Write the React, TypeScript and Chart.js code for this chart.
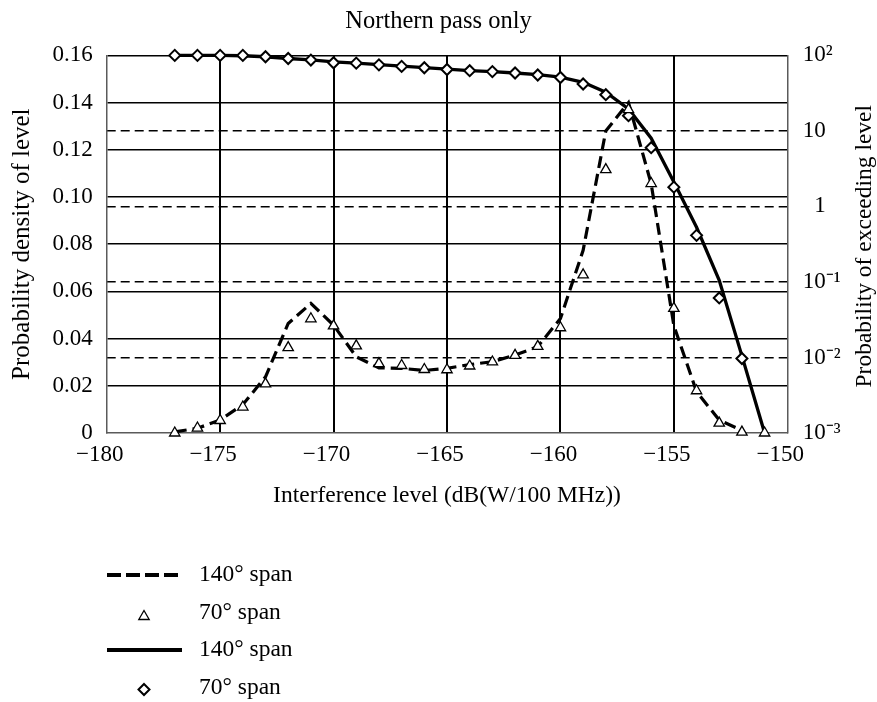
import React, { useEffect, useRef } from 'react';
import { Chart, registerables } from 'chart.js';

Chart.register(...registerables);

const FONT = '"Liberation Serif", "Times New Roman", serif';

const chartTitle = 'Northern pass only';
const xTitle = 'Interference level (dB(W/100 MHz))';
const leftTitle = 'Probability density of level';
const rightTitle = 'Probability of exceeding level';

const xValues = [
  -177, -176, -175, -174, -173, -172, -171, -170, -169, -168, -167, -166, -165, -164,
  -163, -162, -161, -160, -159, -158, -157, -156, -155, -154, -153, -152, -151,
];

// Probability density, 140° span (dashed line)
const density140: (number | null)[] = [
  0.0005, 0.002, 0.0055, 0.012, 0.0238, 0.0464, 0.0549, 0.0457, 0.0323, 0.0276, 0.0274,
  0.0265, 0.0274, 0.029, 0.0302, 0.033, 0.0366, 0.0485, 0.0774, 0.128, 0.14, 0.1056,
  0.0455, 0.0175, 0.0055, 0.0011, null,
];

// Probability density, 70° span (triangles)
const density70: (number | null)[] = [
  0, 0.0021, 0.0053, 0.011, 0.0208, 0.0362, 0.0484, 0.0454, 0.0369, 0.0294, 0.0286,
  0.0269, 0.0268, 0.0284, 0.0301, 0.0329, 0.0367, 0.0446, 0.067, 0.1116, 0.137, 0.1057,
  0.0528, 0.0179, 0.0042, 0.0004, 0,
];

// Probability of exceeding level (%), 140° span (solid line)
const exceed140: (number | null)[] = [
  100, 100, 100, 99, 96, 91, 87, 82, 79, 75.5, 72, 69, 66, 63, 61, 58.5, 55.5, 51.5, 44,
  32.5, 19.5, 8.0, 2.1, 0.53, 0.105, 0.0105, 0.001,
];

// Probability of exceeding level (%), 70° span (diamonds)
const exceed70: (number | null)[] = [
  100, 100, 100, 100, 96, 91, 86.7, 80, 79, 75, 71.5, 68.7, 65, 62.7, 61, 58.5, 55, 51,
  41.8, 30.2, 15.9, 6.0, 1.8, 0.414, 0.0614, 0.0097, null,
];

const xTicks = [-180, -175, -170, -165, -160, -155, -150];
const leftTicks = [0, 0.02, 0.04, 0.06, 0.08, 0.1, 0.12, 0.14, 0.16];
const leftTickLabels = ['0', '0.02', '0.04', '0.06', '0.08', '0.10', '0.12', '0.14', '0.16'];
const rightTicks = [0.001, 0.01, 0.1, 1, 10, 100];
const rightTickLabels = ['10\u207B\u00B3', '10\u207B\u00B2', '10\u207B\u00B9', '\u20071', '10', '10\u00B2'];

const legendLabels = ['140° span', '70° span', '140° span', '70° span'];

const toPoints = (arr: (number | null)[]) =>
  xValues
    .map((x, i) => ({ x, y: arr[i] }))
    .filter((p) => p.y !== null && p.y !== undefined) as { x: number; y: number }[];

const GRAY = '#5a5a5a';
const CLEAR = 'rgba(0,0,0,0)';

function drawTriangle(ctx: CanvasRenderingContext2D, x: number, y: number, r: number) {
  ctx.beginPath();
  ctx.moveTo(x, y - r);
  ctx.lineTo(x + r * Math.sin((2 * Math.PI) / 3), y + r / 2);
  ctx.lineTo(x - r * Math.sin((2 * Math.PI) / 3), y + r / 2);
  ctx.closePath();
  ctx.fill();
  ctx.stroke();
}

function drawDiamond(ctx: CanvasRenderingContext2D, x: number, y: number, r: number) {
  ctx.beginPath();
  ctx.moveTo(x, y - r);
  ctx.lineTo(x + r, y);
  ctx.lineTo(x, y + r);
  ctx.lineTo(x - r, y);
  ctx.closePath();
  ctx.fill();
  ctx.stroke();
}

const overlayPlugin = {
  id: 'overlay',
  afterDraw(chart: any) {
    const ctx: CanvasRenderingContext2D = chart.ctx;
    const area = chart.chartArea;
    const yR = chart.scales.yR;
    // right axis title, reading upward
    ctx.save();
    ctx.fillStyle = '#000';
    ctx.font = `23.5px ${FONT}`;
    ctx.textAlign = 'center';
    ctx.textBaseline = 'middle';
    ctx.translate(yR.right - 12, (area.top + area.bottom) / 2 + 2);
    ctx.rotate(-Math.PI / 2);
    ctx.fillText(rightTitle, 0, 0);
    ctx.restore();

    // legend (vertical list)
    const top = 575;
    const rowH = 37.5;
    const lineX1 = 107;
    const lineX2 = 182;
    const markX = 144;
    const textX = 199;
    ctx.save();
    ctx.font = `23.5px ${FONT}`;
    ctx.textAlign = 'left';
    ctx.textBaseline = 'middle';
    chart.data.datasets.forEach((ds: any, i: number) => {
      const y = top + i * rowH;
      ctx.save();
      if (ds.showLine !== false) {
        ctx.strokeStyle = '#000';
        ctx.lineWidth = 4;
        ctx.setLineDash(ds.borderDash ? [14, 5] : []);
        ctx.beginPath();
        ctx.moveTo(lineX1, y);
        ctx.lineTo(lineX2, y);
        ctx.stroke();
      } else if (ds.pointStyle === 'triangle') {
        ctx.fillStyle = '#fff';
        ctx.strokeStyle = '#000';
        ctx.lineWidth = 1.3;
        drawTriangle(ctx, markX, y + 4, 6);
      } else {
        ctx.fillStyle = '#fff';
        ctx.strokeStyle = '#000';
        ctx.lineWidth = 2;
        drawDiamond(ctx, markX, y + 2, 5.5);
      }
      ctx.restore();
      ctx.fillStyle = '#000';
      ctx.fillText(legendLabels[i], textX, y);
    });
    ctx.restore();
  },
};

export default function App() {
  const canvasRef = useRef<HTMLCanvasElement | null>(null);

  useEffect(() => {
    document.body.style.margin = '0';
    const canvas = canvasRef.current;
    if (!canvas) return;
    Chart.defaults.font.family = FONT;
    Chart.defaults.font.size = 23;
    Chart.defaults.color = '#000';

    const chart = new Chart(canvas, {
      type: 'line',
      data: {
        datasets: [
          {
            label: legendLabels[0],
            data: toPoints(density140),
            yAxisID: 'y',
            borderColor: '#000',
            borderWidth: 3.2,
            borderDash: [12, 6],
            pointRadius: 0,
            tension: 0,
            fill: false,
            clip: false,
            order: 2,
          } as any,
          {
            label: legendLabels[1],
            data: toPoints(density70),
            yAxisID: 'y',
            showLine: false,
            pointStyle: 'triangle',
            pointRadius: 6,
            pointBackgroundColor: '#fff',
            pointBorderColor: '#000',
            pointBorderWidth: 1.3,
            clip: false,
            order: 0,
          } as any,
          {
            label: legendLabels[2],
            data: toPoints(exceed140),
            yAxisID: 'yR',
            borderColor: '#000',
            borderWidth: 3.3,
            pointRadius: 0,
            tension: 0,
            fill: false,
            clip: false,
            order: 2,
          } as any,
          {
            label: legendLabels[3],
            data: toPoints(exceed70),
            yAxisID: 'yR',
            showLine: false,
            pointStyle: 'rectRot',
            pointRadius: 5.5,
            pointBackgroundColor: '#fff',
            pointBorderColor: '#000',
            pointBorderWidth: 2,
            clip: false,
            order: 0,
          } as any,
        ],
      },
      options: {
        animation: false,
        responsive: true,
        maintainAspectRatio: false,
        devicePixelRatio: 1,
        layout: { padding: { left: 0, right: 0, top: 0, bottom: 192 } },
        plugins: {
          legend: { display: false },
          tooltip: { enabled: false },
          title: {
            display: true,
            text: chartTitle,
            color: '#000',
            font: { size: 24.5, weight: 'normal' as any, family: FONT },
            padding: { top: 7, bottom: 19 },
          },
        },
        scales: {
          x: {
            type: 'linear',
            min: -180,
            max: -150,
            afterBuildTicks: (s: any) => {
              s.ticks = xTicks.map((v) => ({ value: v }));
            },
            afterFit: (s: any) => {
              s.height = 77;
            },
            ticks: {
              padding: 8,
              labelOffset: -7,
              maxRotation: 0,
              autoSkip: false,
              callback: (v: any) => (Number(v) < 0 ? '\u2212' + Math.abs(Number(v)) : String(v)),
            },
            grid: {
              drawTicks: false,
              lineWidth: 2,
              color: (c: any) =>
                c.tick && (c.tick.value === -180 || c.tick.value === -150) ? CLEAR : '#000',
            },
            border: { color: GRAY, width: 1.5 },
            title: {
              display: true,
              text: xTitle,
              font: { size: 23.5 },
              padding: { top: 0, bottom: 0 },
            },
          },
          y: {
            type: 'linear',
            position: 'left',
            min: 0,
            max: 0.16,
            afterBuildTicks: (s: any) => {
              s.ticks = leftTicks.map((v) => ({ value: v }));
            },
            afterFit: (s: any) => {
              s.width = 106.7;
            },
            ticks: {
              padding: 14,
              autoSkip: false,
              callback: (_v: any, i: number) => leftTickLabels[i],
            },
            grid: {
              drawTicks: false,
              lineWidth: 1.5,
              color: (c: any) => (c.tick && c.tick.value === 0 ? CLEAR : '#000'),
            },
            border: { color: GRAY, width: 1.5 },
            title: {
              display: true,
              text: leftTitle,
              font: { size: 25 },
              padding: { top: 7, bottom: 0 },
            },
          },
          yR: {
            type: 'logarithmic',
            position: 'right',
            min: 0.001,
            max: 100,
            afterBuildTicks: (s: any) => {
              s.ticks = rightTicks.map((v) => ({ value: v }));
            },
            afterFit: (s: any) => {
              s.width = 89.7;
            },
            ticks: {
              padding: 15.5,
              autoSkip: false,
              crossAlign: 'near',
              callback: (v: any) => {
                const idx = rightTicks.findIndex((t) => Math.abs(Math.log10(t) - Math.log10(Number(v))) < 1e-6);
                return idx >= 0 ? rightTickLabels[idx] : '';
              },
            },
            grid: {
              drawTicks: false,
              drawOnChartArea: true,
              lineWidth: 1.5,
              color: (c: any) =>
                c.index === 0 || c.index === rightTicks.length - 1 ? CLEAR : '#000',
            },
            border: { color: GRAY, width: 1.5, dash: [9, 5] },
            title: { display: false },
          },
        },
      } as any,
      plugins: [overlayPlugin],
    });

    return () => {
      chart.destroy();
    };
  }, []);

  return (
    <div style={{ position: 'relative', width: '877px', height: '702px' }}>
      <canvas ref={canvasRef} />
    </div>
  );
}
